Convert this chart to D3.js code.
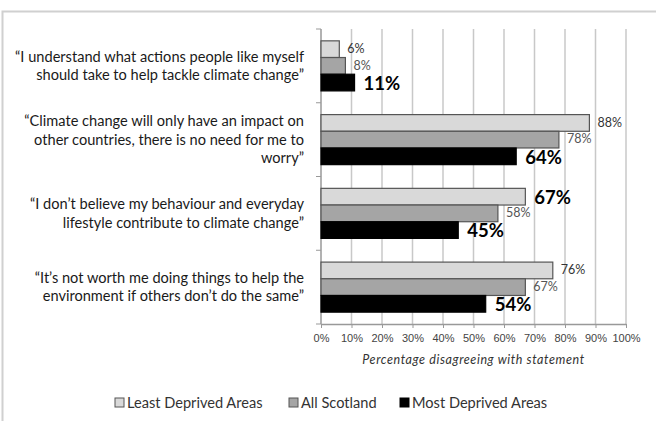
<!DOCTYPE html>
<html>
<head>
<meta charset="utf-8">
<script src="https://cdn.jsdelivr.net/npm/d3@7"></script>
<style>
  body { margin: 0; background: #fff; }
  svg { font-family: Lato, "Liberation Sans", sans-serif; }
</style>
</head>
<body>
<div id="chart"></div>
<script>
// statements (already split into lines the way the original wraps them)
var statements = [
  ["\u201cI understand what actions people like myself", "should take to help tackle climate change\u201d"],
  ["\u201cClimate change will only have an impact on", "other countries, there is no need for me to", "worry\u201d"],
  ["\u201cI don\u2019t believe my behaviour and everyday", "lifestyle contribute to climate change\u201d"],
  ["\u201cIt\u2019s not worth me doing things to help the", "environment if others don\u2019t do the same\u201d"]
];
var seriesNames = ["Least Deprived Areas", "All Scotland", "Most Deprived Areas"];
var leastDeprived = [6, 88, 67, 76];
var allScotland   = [8, 78, 58, 67];
var mostDeprived  = [11, 64, 45, 54];
var xTicks = [0, 10, 20, 30, 40, 50, 60, 70, 80, 90, 100];

var values = [leastDeprived, allScotland, mostDeprived];
var fills = ["#d9d9d9", "#a5a5a5", "#000000"];
var strokes = ["#555", "#555", "#000"];

// chart area
var W = 656, H = 421;
var margin = {top: 29, left: 321, right: 30, bottom: 97};
var width = W - margin.left - margin.right,
    height = H - margin.top - margin.bottom;

var svg = d3.select("#chart").append("svg")
  .attr("width", W)
  .attr("height", H);

// outer frame (only top/left visible in the original crop)
svg.append("rect")
  .attr("x", 2.5).attr("y", 11.5)
  .attr("width", W + 10).attr("height", H + 10)
  .attr("fill", "none")
  .attr("stroke", "#d0d0d0")
  .attr("stroke-width", 2);

var g = svg.append("g")
  .attr("transform", `translate(${margin.left},${margin.top})`);

var x = d3.scaleLinear().domain([0, 100]).range([0, width]);
var y = d3.scaleBand().domain(d3.range(statements.length)).range([0, height]);
var ySub = d3.scaleBand().domain(d3.range(seriesNames.length))
  .range([0, y.bandwidth()]).paddingOuter(0.71);

// gridlines
g.append("g")
  .selectAll("line")
  .data(xTicks.slice(1))
  .join("line")
    .attr("x1", d => x(d)).attr("x2", d => x(d))
    .attr("y1", 0).attr("y2", height)
    .attr("stroke", "#c8c8c8")
    .attr("stroke-width", 1.5);

// x axis
var xAxis = g.append("g")
  .attr("transform", `translate(0,${height})`)
  .call(d3.axisBottom(x).tickValues(xTicks).tickFormat(d => d + "%").tickSize(4).tickSizeOuter(0));
xAxis.select(".domain").attr("stroke", "#999").attr("stroke-width", 1.5);
xAxis.selectAll(".tick line").attr("stroke", "#999");
xAxis.selectAll("text")
  .attr("fill", "#444")
  .style("font-size", "11px")
  .attr("dy", "1.0em");

// y axis: line with ticks at the band boundaries
g.append("line")
  .attr("x1", 0).attr("x2", 0).attr("y1", 0).attr("y2", height)
  .attr("stroke", "#999").attr("stroke-width", 1.5);
g.append("g")
  .selectAll("line")
  .data(d3.range(statements.length + 1))
  .join("line")
    .attr("x1", -5).attr("x2", 0)
    .attr("y1", d => d * y.step()).attr("y2", d => d * y.step())
    .attr("stroke", "#999");

// bars
var groups = g.selectAll(".grp")
  .data(statements)
  .join("g")
    .attr("class", "grp")
    .attr("transform", (d, i) => `translate(0,${y(i)})`);

groups.each(function(d, i) {
  var grp = d3.select(this);
  values.forEach(function(vals, s) {
    grp.append("rect")
      .attr("x", x(0))
      .attr("y", ySub(s))
      .attr("width", x(vals[i]) - x(0))
      .attr("height", ySub.bandwidth())
      .attr("fill", fills[s])
      .attr("stroke", strokes[s])
      .attr("stroke-width", 1.2);

    // highlighted labels are bigger and bold
    var big = (s === 2) || (s === 0 && i === 2);
    grp.append("text")
      .attr("x", x(vals[i]) + (big ? 9 : 8))
      .attr("y", ySub(s) + ySub.bandwidth() / 2)
      .attr("dy", big ? "0.4em" : "0.3em")
      .attr("fill", big ? "#000" : (s === 1 ? "#555" : "#333"))
      .style("font-size", big ? "18.5px" : "12.5px")
      .style("font-weight", big ? "bold" : "normal")
      .text(vals[i] + "%");
  });

  // statement text, right aligned next to the axis
  var lines = statements[i];
  var lh = 18.5;
  var t = grp.append("text")
    .attr("text-anchor", "end")
    .attr("fill", "#1a1a1a")
    .style("font-size", "14.6px");
  lines.forEach(function(line, k) {
    t.append("tspan")
      .attr("x", -17)
      .attr("y", y.bandwidth() / 2 + (k - (lines.length - 1) / 2) * lh)
      .attr("dy", "0.35em")
      .text(line);
  });
});

// axis title
g.append("text")
  .attr("x", width / 2)
  .attr("y", height + 40)
  .attr("text-anchor", "middle")
  .attr("fill", "#333")
  .style("font-size", "12.5px")
  .style("font-style", "italic")
  .style("letter-spacing", "0.6px")
  .text("Percentage disagreeing with statement");

// legend
var legendX = [115, 289, 400];
var legend = svg.append("g")
  .selectAll("g")
  .data(seriesNames)
  .join("g")
    .attr("transform", (d, i) => `translate(${legendX[i]},403)`);
legend.append("rect")
  .attr("x", 0).attr("y", -5)
  .attr("width", 9).attr("height", 9)
  .attr("fill", (d, i) => fills[i])
  .attr("stroke", (d, i) => strokes[i]);
legend.append("text")
  .attr("x", 12)
  .attr("y", 0)
  .attr("dy", "0.35em")
  .attr("fill", "#333")
  .style("font-size", "14.6px")
  .text(d => d);
</script>
</body>
</html>
